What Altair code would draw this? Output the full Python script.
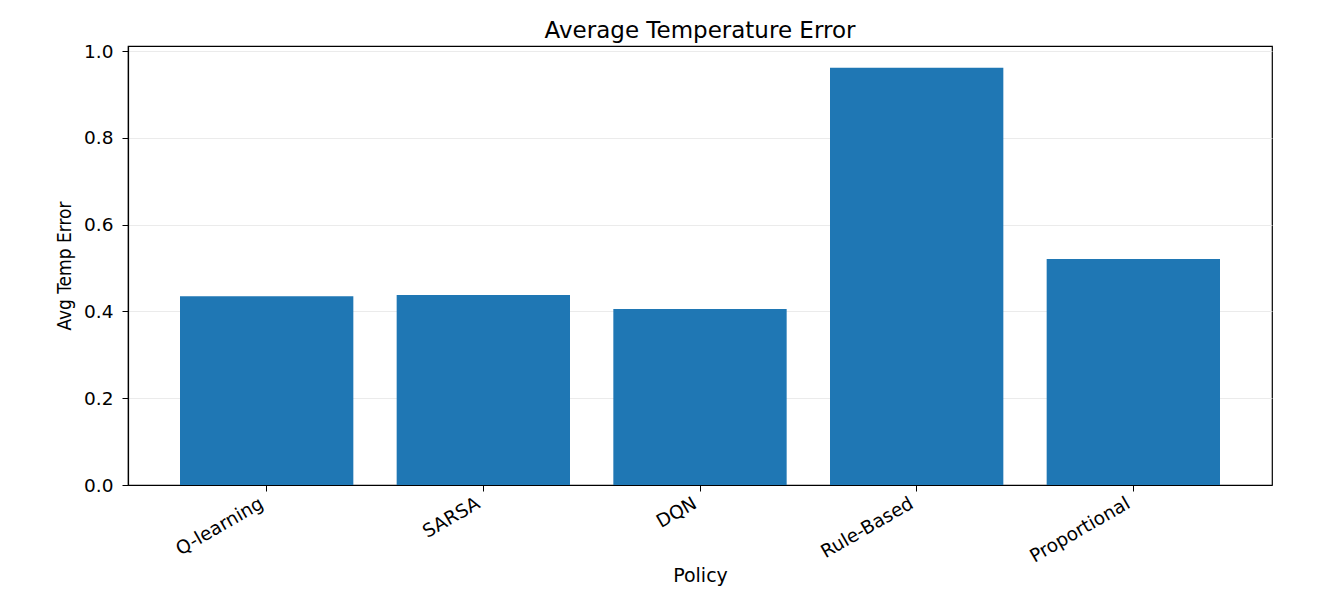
import altair as alt
import pandas as pd

policies = ["Q-learning", "SARSA", "DQN", "Rule-Based", "Proportional"]
avg_err = [0.435, 0.438, 0.406, 0.962, 0.521]
y_ticks = [0.0, 0.2, 0.4, 0.6, 0.8, 1.0]

df = pd.DataFrame({"Policy": policies, "err": avg_err})

bars = alt.Chart(df).mark_bar(color="#1f77b4").encode(
    x=alt.X("Policy:N", sort=policies,
            scale=alt.Scale(paddingInner=0.2, paddingOuter=0.24),
            axis=alt.Axis(title="Policy", labelAngle=-30, labelAlign="right",
                          labelBaseline="bottom", labelPadding=19, titlePadding=1,
                          grid=False)),
    y=alt.Y("err:Q", scale=alt.Scale(domain=[0, 1.012], nice=False, zero=True),
            axis=alt.Axis(title="Avg Temp Error", values=y_ticks, format=".1f",
                          labelPadding=9, titleFont="DejaVu Sans Condensed",
                          titleFontSize=19, titlePadding=9,
                          gridColor="#e6e6e6", gridWidth=0.8)),
)

chart = bars.properties(
    width=1144, height=439,
    title=alt.TitleParams("Average Temperature Error", fontSize=23, fontWeight="normal",
                          font="DejaVu Sans", color="black", offset=-1),
    autosize=alt.AutoSizeParams(type="none"),
    padding={"left": 120, "top": 38, "right": 40, "bottom": 110},
).configure_view(
    stroke="black", strokeWidth=1.2
).configure_axis(
    labelFont="DejaVu Sans", titleFont="DejaVu Sans", labelFontSize=18.5,
    titleFontSize=19, titleFontWeight="normal", labelColor="black",
    titleColor="black", domainColor="black", tickColor="black",
    tickSize=6, domainWidth=1.2
).configure_axisX(grid=False)

chart.save("out.html", embed_options={"renderer": "svg", "actions": False})
